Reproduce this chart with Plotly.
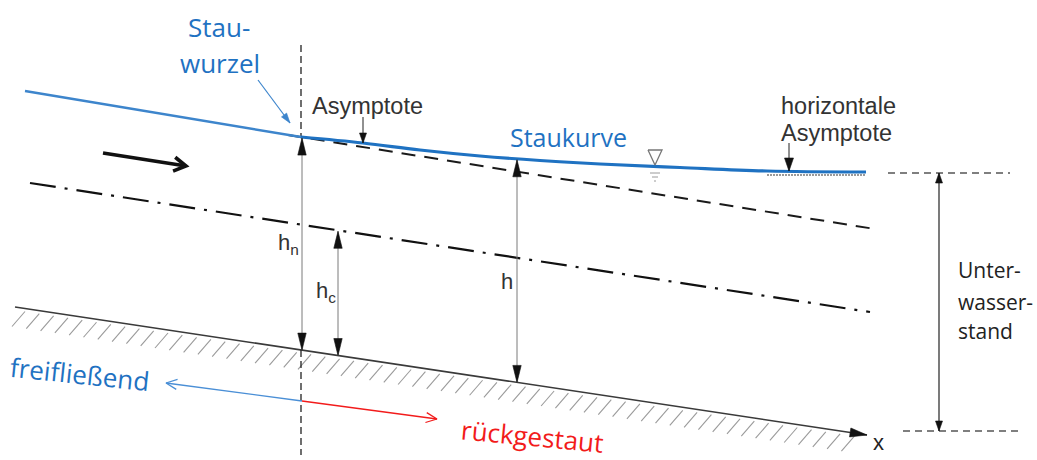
import numpy as np
import plotly.graph_objects as go

W, H = 1037, 460

# ---------------- data (pixel-space diagram geometry) ----------------
upstream_x = [25, 301]                      # free surface upstream (freifließend)
upstream_y = [91, 137]
stau_x = [301, 363, 420, 480, 540, 600, 680, 767, 866]   # Staukurve
stau_y = [137, 143, 150, 156, 160.5, 164, 167.5, 171, 172]
normal_x = [288, 875]                       # normal-depth asymptote (dashed)
normal_y = [135, 229]
crit_x = [30, 870]                          # critical depth (dash-dot)
crit_y = [183, 312]
bed_x = [15, 867]                           # channel bed
bed_y = [307, 435]
hasym_x = [767, 866]                        # horizontal asymptote
hasym_y = [175, 175]
sep_x = 301                                 # Stauwurzel section
sep_y = [45, 455]
depth_labels = ["h<sub>n</sub>", "h<sub>c</sub>", "h"]
depth_x = [302, 338, 517]
depth_top_line = ["stau", "crit", "stau"]
tw_x = 939                                  # Unterwasserstand dimension
tw_top, tw_bottom = 173, 431
tw_ref_top_x = [888, 1010]
tw_ref_bot_x = [903, 1022]
flow_arrow_x = [103, 186]
flow_arrow_y = [153, 166]
dir_origin = (302, 401)
free_tip = (166, 383)
back_tip = (437, 419)

BLUE = "#1f72c2"
BLUE_LIGHT = "#3d85cc"
RED = "#f21b1b"
DARK = "#222222"

fig = go.Figure()


def seg(x, y, color, width, dash=None, shape="linear"):
    fig.add_trace(go.Scatter(x=list(x), y=list(y), mode="lines",
                             line=dict(color=color, width=width, dash=dash, shape=shape),
                             hoverinfo="skip"))


def head(tip, tail, L, Wd, color, filled=True, lw=1.2):
    tx, ty = tip
    sx, sy = tail
    dx, dy = tx - sx, ty - sy
    n = np.hypot(dx, dy)
    ux, uy = dx / n, dy / n
    bx, by = tx - ux * L, ty - uy * L
    px, py = -uy, ux
    xs = [bx + px * Wd, tx, bx - px * Wd]
    ys = [by + py * Wd, ty, by - py * Wd]
    if filled:
        fig.add_trace(go.Scatter(x=xs + [xs[0]], y=ys + [ys[0]], mode="lines", fill="toself",
                                 fillcolor=color, line=dict(color=color, width=0.6),
                                 hoverinfo="skip"))
    else:
        fig.add_trace(go.Scatter(x=xs, y=ys, mode="lines",
                                 line=dict(color=color, width=lw), hoverinfo="skip"))


def bed_at(x):
    return float(np.interp(x, bed_x, bed_y))


# hatching below the bed
hx, hy = [], []
for x0 in np.arange(bed_x[0] + 10, bed_x[1] - 4, 14.3):
    y0 = bed_at(x0)
    hx += [x0, x0 - 13, None]
    hy += [y0 + 3, y0 + 18, None]
fig.add_trace(go.Scatter(x=hx, y=hy, mode="lines", line=dict(color="#9a9a9a", width=1.1),
                         hoverinfo="skip"))

# bed line with arrow
seg(bed_x, bed_y, "#3a3a3a", 1.6)
head((bed_x[1], bed_y[1]), (bed_x[0], bed_y[0]), 17, 4.5, "#111111")

# vertical section line (dashed)
seg([sep_x, sep_x], [sep_y[0], 137], DARK, 1.3, dash="7px,4px")
seg([sep_x, sep_x], [350, sep_y[1]], DARK, 1.3, dash="7px,4px")

# critical depth (dash-dot)
seg(crit_x, crit_y, "#111111", 2.2, dash="26px,9px,3px,9px")
# normal depth asymptote (dashed)
seg(normal_x, normal_y, "#1a1a1a", 2.0, dash="14px,9px")
# horizontal asymptote (dotted gray)
seg(hasym_x, hasym_y, "#9a9a9a", 2.0, dash="2px,1px")
# free surface upstream
seg(upstream_x, upstream_y, BLUE_LIGHT, 2.4)
# Staukurve
seg(stau_x, stau_y, BLUE, 3.2, shape="spline")

# depth dimension arrows
lines = {"stau": (stau_x, stau_y), "crit": (crit_x, crit_y)}
for xd, lk in zip(depth_x, depth_top_line):
    lx, ly = lines[lk]
    yt = float(np.interp(xd, lx, ly)) + 1
    yb = bed_at(xd)
    seg([xd, xd], [yt, yb], "#7a7a7a", 1.0)
    head((xd, yt), (xd, yb), 17, 4.2, "#111111")
    head((xd, yb), (xd, yt), 17, 4.2, "#111111")

# Asymptote label arrows
seg([363, 363], [117, 143], DARK, 1.0)
head((363, 143), (363, 117), 10, 3.5, "#111111")
seg([789, 789], [143, 171], DARK, 1.0)
head((789, 171), (789, 143), 13, 4.5, "#111111")

# Stauwurzel arrow
seg([258, 290], [80, 123], BLUE_LIGHT, 1.2)
head((290, 123), (258, 80), 10, 3.2, BLUE_LIGHT)

# flow arrow
seg(flow_arrow_x, flow_arrow_y, "#111111", 3.6)
head((flow_arrow_x[1], flow_arrow_y[1]), (flow_arrow_x[0], flow_arrow_y[0]), 12, 7,
     "#111111", filled=False, lw=3.6)

# water-level symbol
fig.add_trace(go.Scatter(x=[648, 662, 655, 648], y=[150, 150, 165, 150], mode="lines",
                         line=dict(color="#777777", width=1.3), hoverinfo="skip"))
seg([650, 660, None, 652, 658, None, 654, 656], [173, 173, None, 177, 177, None, 181, 181],
    "#9a9a9a", 1.0)

# Unterwasserstand dimension
seg(tw_ref_top_x, [tw_top, tw_top], "#555555", 1.3, dash="7px,5px")
seg(tw_ref_bot_x, [tw_bottom, tw_bottom], "#555555", 1.3, dash="7px,5px")
seg([tw_x, tw_x], [tw_top, tw_bottom], "#222222", 1.2)
head((tw_x, tw_top), (tw_x, tw_bottom), 10, 3.5, "#111111")
head((tw_x, tw_bottom), (tw_x, tw_top), 10, 3.5, "#111111")

# freifließend / rückgestaut arrows
seg([dir_origin[0], free_tip[0]], [dir_origin[1], free_tip[1]], "#4a8fd6", 1.3)
head(free_tip, dir_origin, 11, 5, "#4a8fd6", filled=False, lw=1.3)
seg([dir_origin[0], back_tip[0]], [dir_origin[1], back_tip[1]], RED, 1.3)
head(back_tip, dir_origin, 11, 5, RED, filled=False, lw=1.3)

# ---------------- text ----------------
OS = "Open Sans"
AR = "Liberation Sans, Arial"


def txt(x, y, s, size, color, family, xanchor="center", angle=0):
    fig.add_annotation(x=x, y=y, text=s, showarrow=False, xanchor=xanchor, yanchor="middle",
                       textangle=angle, font=dict(size=size, color=color, family=family))


txt(219, 27, "Stau-", 26, BLUE, OS)
txt(220, 63, "wurzel", 26, BLUE, OS)
txt(568, 137, "Staukurve", 25, BLUE, OS)
txt(367, 106, "Asymptote", 23.5, "#333333", AR)
txt(779, 106, "horizontale", 23.5, "#333333", AR, xanchor="left")
txt(779, 133, "Asymptote", 23.5, "#333333", AR, xanchor="left")
txt(956, 270, "Unter-", 21, "#222222", OS, xanchor="left")
txt(956, 302, "wasser-", 21, "#222222", OS, xanchor="left")
txt(956, 331, "stand", 21, "#222222", OS, xanchor="left")
txt(80, 374, "freifließend", 26, BLUE, OS, angle=6)
txt(532, 436, "rückgestaut", 26, RED, OS, angle=5.5)
txt(276, 244, depth_labels[0], 22, "#333333", AR, xanchor="left")
txt(314, 292, depth_labels[1], 22, "#333333", AR, xanchor="left")
txt(499, 281, depth_labels[2], 22, "#333333", AR, xanchor="left")
txt(878, 442, "x", 22, "#222222", AR)

fig.update_layout(
    width=W, height=H, margin=dict(l=0, r=0, t=0, b=0),
    paper_bgcolor="white", plot_bgcolor="white", showlegend=False,
    xaxis=dict(range=[0, W], visible=False, fixedrange=True),
    yaxis=dict(range=[H, 0], visible=False, fixedrange=True),
)
fig.write_html("out.html", config={"displayModeBar": False},
               post_script="document.body.style.margin='0px';document.body.style.overflow='hidden';")
